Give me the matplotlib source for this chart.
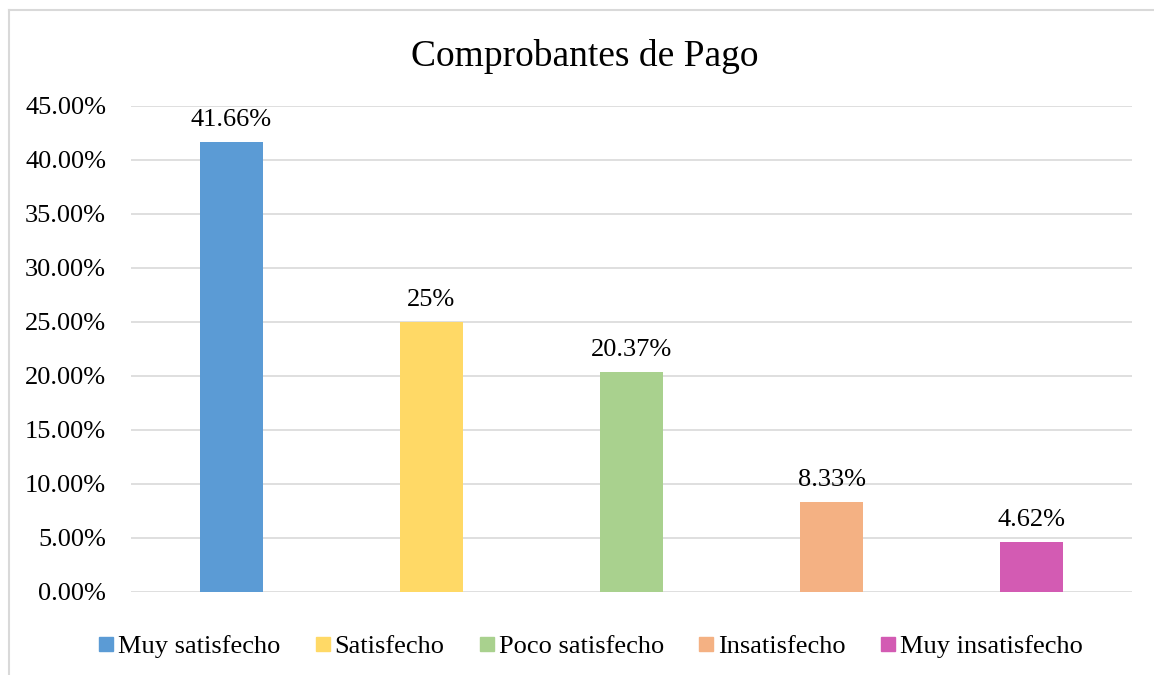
import matplotlib
matplotlib.use("Agg")
import matplotlib.pyplot as plt
from matplotlib.lines import Line2D
from matplotlib.ticker import FuncFormatter

categories = ["Muy satisfecho", "Satisfecho", "Poco satisfecho", "Insatisfecho", "Muy insatisfecho"]
values = [0.4166, 0.25, 0.2037, 0.0833, 0.0462]
labels = ["41.66%", "25%", "20.37%", "8.33%", "4.62%"]
colors = ["#5B9BD5", "#FFD966", "#A9D18E", "#F4B183", "#D35BB3"]
yticks = [0.0, 0.05, 0.10, 0.15, 0.20, 0.25, 0.30, 0.35, 0.40, 0.45]

plt.rcParams['font.family'] = ['Liberation Serif', 'DejaVu Serif']

W, H = 1154, 675
fig = plt.figure(figsize=(W / 100, H / 100), dpi=100)
ax = fig.add_axes([131 / W, 1 - 592 / H, (1132 - 131) / W, (592 - 106) / H])

x = list(range(len(categories)))
bars = ax.bar(x, values, width=0.315, color=colors, zorder=3)
for xi, v, lab in zip(x, values, labels):
    ax.annotate(lab, (xi, v), xytext=(0, 8), textcoords="offset points",
                ha="center", va="bottom", fontsize=19, color="#000000")

ax.set_xlim(-0.5, len(categories) - 0.5)
ax.set_ylim(0, 0.45)
ax.set_yticks(yticks)
ax.yaxis.set_major_formatter(FuncFormatter(lambda v, p: f"{v*100:.2f}%"))
ax.tick_params(axis='y', length=0, labelsize=19, pad=18, labelcolor="#000000")
ax.set_xticks([])
ax.grid(axis='y', color="#D9D9D9", linewidth=1.2, zorder=0)
for s in ax.spines.values():
    s.set_visible(False)

fig.text(585 / W, 1 - 57 / H, "Comprobantes de Pago", ha="center", va="center", fontsize=27)

handles = [Line2D([0], [0], marker='s', linestyle='none', markersize=10,
                  markerfacecolor=c, markeredgecolor=c) for c in colors]
fig.legend(handles, categories, loc="center", bbox_to_anchor=(591 / W, 1 - 646 / H),
           ncol=5, frameon=False, fontsize=19, handlelength=0.5, handletextpad=0.2,
           columnspacing=1.35)

# outer chart border (partially outside the image)
fig.add_artist(Line2D([9 / W, 1.0], [1 - 10 / H, 1 - 10 / H], transform=fig.transFigure,
                      color="#D9D9D9", linewidth=1.5))
fig.add_artist(Line2D([9 / W, 9 / W], [0, 1 - 10 / H], transform=fig.transFigure,
                      color="#D9D9D9", linewidth=1.5))

fig.savefig("out.png", dpi=100)
